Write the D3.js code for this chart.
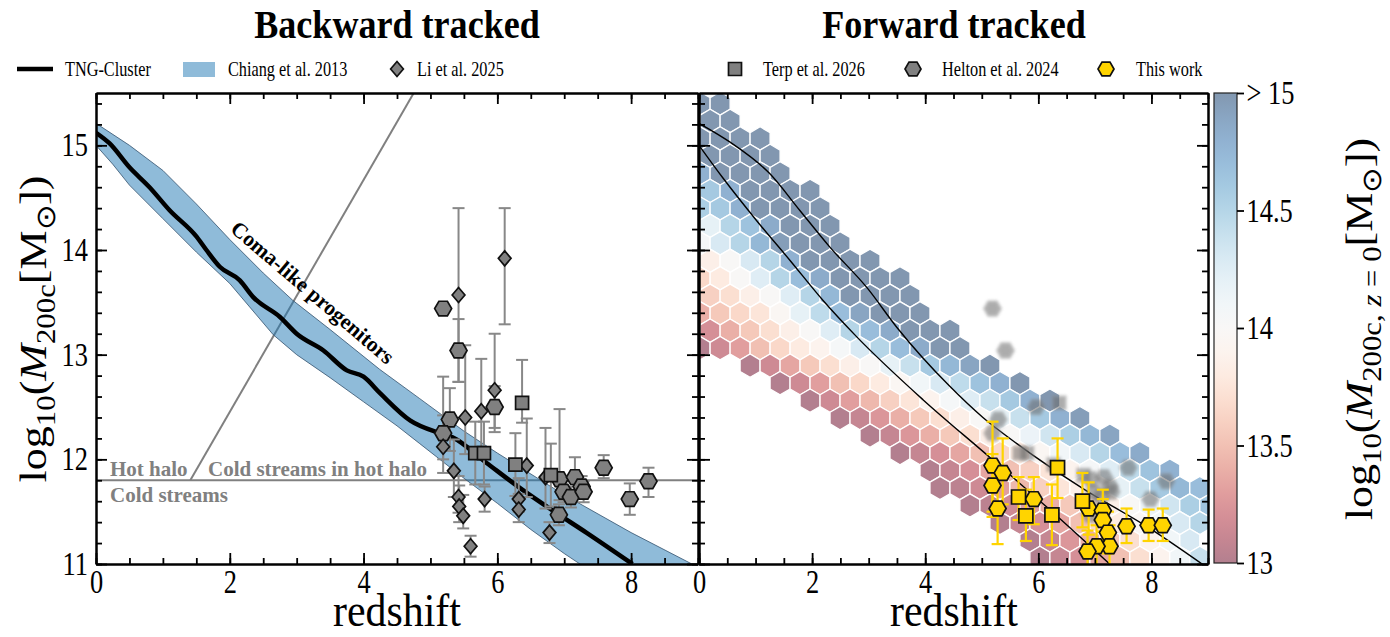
<!DOCTYPE html>
<html>
<head>
<meta charset="utf-8">
<script src="https://cdn.jsdelivr.net/npm/d3@7/dist/d3.min.js"></script>
<style>
  body { margin: 0; background: #fff; }
  svg text { font-family: "Liberation Serif", "Times New Roman", serif; }
</style>
</head>
<body>
<div id="wrapper"></div>
<script>
// ---------------- data ----------------
const xTicksMajor = [0, 2, 4, 6, 8]
const yTicksMajor = [11, 12, 13, 14, 15]
const cbTicks = [13, 13.5, 14, 14.5, 15]
const cbTickLabels = ['13', '13.5', '14', '14.5', '> 15']

// TNG-Cluster median track
const tngZ = [0, 0.2, 0.5, 0.8, 1.1, 1.5, 1.65, 1.85, 2.15, 2.35, 2.75, 3.0, 3.4, 3.75, 4.0, 4.25, 4.7, 5.14, 5.33, 5.83, 6.33, 6.83, 7.33, 8.02]
const tngM = [15.12, 15.02, 14.79, 14.6, 14.38, 14.13, 14.0, 13.84, 13.71, 13.55, 13.36, 13.2, 13.04, 12.85, 12.79, 12.63, 12.37, 12.25, 12.21, 11.97, 11.73, 11.51, 11.3, 11.0]

// Chiang et al. 2013 band
const chiangUpZ = [0, 0.5, 1.0, 1.5, 2.0, 2.5, 2.94, 3.5, 4.24, 4.84, 5.5, 6.0, 7.0, 8.0, 9.0]
const chiangUpM = [15.21, 15.0, 14.76, 14.44, 14.1, 13.78, 13.52, 13.24, 12.86, 12.58, 12.27, 12.06, 11.66, 11.3, 10.97]
const chiangLoZ = [0, 0.25, 0.5, 1.0, 1.5, 2.0, 2.65, 3.0, 3.5, 4.0, 4.5, 4.84, 5.5, 6.0, 6.5, 7.0, 7.4]
const chiangLoM = [15.0, 14.82, 14.62, 14.3, 13.98, 13.68, 13.19, 13.0, 12.78, 12.55, 12.32, 12.15, 11.82, 11.58, 11.33, 11.1, 10.93]

// hot halo / cold stream boundaries
const haloLineZ = [1.41, 4.75]
const haloLineM = [11.8, 15.5]
const streamLineZ = [0, 9]
const streamLineM = [11.8, 11.8]

// Li et al. 2025
const liZ = [5.42, 6.11, 5.96, 5.76, 5.52, 5.19, 6.44, 5.35, 6.72, 5.42, 5.43, 5.49, 5.81, 6.32, 6.32, 6.78, 5.6]
const liM = [13.57, 13.92, 12.66, 12.46, 12.4, 12.12, 11.94, 11.89, 11.83, 11.64, 11.55, 11.46, 11.62, 11.62, 11.52, 11.3, 11.17]
const liErrLo = [0.83, 0.63, 0.4, 0.35, 0.35, 0.25, 0.3, 0.25, 0.3, 0.15, 0.15, 0.12, 0.12, 0.12, 0.12, 0.1, 0.1]
const liErrHi = [0.83, 0.48, 0.54, 0.5, 0.69, 0.3, 0.45, 0.3, 0.47, 0.2, 0.2, 0.2, 0.12, 0.2, 0.15, 0.1, 0.1]

// Terp et al. 2026
const terpZ = [6.37, 5.67, 5.8, 6.27, 6.8]
const terpM = [12.54, 12.06, 12.06, 11.95, 11.85]
const terpErrLo = [0.19, 0.3, 0.3, 0.3, 0.3]
const terpErrHi = [0.41, 0.3, 0.3, 0.3, 0.3]

// Helton et al. 2024
const heltonZ = [5.19, 5.42, 5.96, 5.29, 5.19, 6.93, 7.16, 7.59, 8.26, 6.99, 7.1, 7.26, 7.29, 7.98, 6.92]
const heltonM = [13.44, 13.04, 12.5, 12.38, 12.25, 11.81, 11.83, 11.92, 11.79, 11.69, 11.64, 11.74, 11.69, 11.62, 11.47]
const heltonErrLo = [0, 0.3, 0.2, 0.3, 0.25, 0.2, 0.2, 0.1, 0.15, 0.1, 0.1, 0.1, 0.1, 0.15, 0.1]
const heltonErrHi = [0, 0.3, 0.2, 0.3, 0.54, 0.67, 0.19, 0.12, 0.13, 0.1, 0.1, 0.1, 0.1, 0.15, 0.1]

// This work (forward tracked)
const thisHexZ = [5.19, 5.37, 5.19, 5.28, 5.92, 6.89, 7.14, 7.14, 7.23, 7.26, 7.03, 6.87, 7.56, 7.95, 8.2]
const thisHexM = [11.94, 11.87, 11.75, 11.53, 11.62, 11.53, 11.51, 11.42, 11.3, 11.17, 11.17, 11.12, 11.36, 11.37, 11.37]
const thisHexErrLo = [0.44, 0.3, 0.3, 0.34, 0.24, 0.25, 0.2, 0.2, 0.2, 0.2, 0.2, 0.2, 0.16, 0.15, 0.15]
const thisHexErrHi = [0.42, 0.33, 0.3, 0.3, 0.21, 0.25, 0.2, 0.2, 0.2, 0.2, 0.2, 0.2, 0.17, 0.15, 0.16]
const thisSqZ = [6.34, 5.65, 5.78, 6.24, 6.78]
const thisSqM = [11.92, 11.64, 11.46, 11.47, 11.6]
const thisSqErrLo = [0.29, 0.22, 0.24, 0.29, 0.25]
const thisSqErrHi = [0.28, 0.19, 0.25, 0.29, 0.27]

// forward-tracked envelope curves
const fwdUpZ = [0, 0.55, 1.25, 1.78, 2.31, 2.97, 3.5, 4.43, 5.02, 5.62, 6.79, 7.97, 9.0]
const fwdUpM = [15.21, 15.03, 14.73, 14.38, 14.03, 13.64, 13.26, 12.7, 12.4, 12.15, 11.72, 11.34, 10.96]
const fwdLoZ = [0, 0.42, 1.02, 1.61, 2.19, 2.79, 3.96, 5.14, 6.2, 7.26]
const fwdLoM = [15.0, 14.69, 14.28, 13.9, 13.52, 13.17, 12.57, 12.02, 11.52, 11.0]

// hexbin grid: bin size and first row, then per row the first column and the z=0 mass of each cell
const hexDz = 0.3534
const hexDM = 0.167
const hexZ0 = 0.02
const hexM0 = 15.4
const hexStartCol = [0, 0, 0, 0, 0, 0, 0, 0, 0, 0, 0, 0, 0, 0, 0, 2, 4, 5, 7, 8, 10, 11, 12, 13, 15, 16, 17]
const hexValues = [
  [15, 15],
  [15, 15],
  [15, 15, 15, 15],
  [15, 15, 15, 15],
  [14.8, 15, 15, 15, 15],
  [14.6, 14.8, 15, 15, 15, 15],
  [14.55, 14.6, 14.8, 15, 15, 15, 15],
  [14.2, 14.5, 14.65, 14.85, 15, 15, 15],
  [14.05, 14.3, 14.5, 14.75, 14.95, 15, 15, 15],
  [13.85, 14.0, 14.3, 14.5, 14.8, 15, 15, 15, 15],
  [13.65, 13.8, 14.0, 14.25, 14.5, 14.7, 14.85, 15, 15, 15, 15],
  [13.6, 13.7, 13.85, 14.0, 14.25, 14.5, 14.75, 15, 15, 15, 15],
  [13.4, 13.55, 13.65, 13.75, 13.95, 14.2, 14.45, 14.7, 14.9, 15, 15, 15],
  [13.2, 13.4, 13.55, 13.7, 13.85, 14.0, 14.25, 14.5, 14.7, 14.85, 15, 15, 15],
  [13.0, 13.15, 13.3, 13.5, 13.65, 13.8, 13.9, 14.05, 14.3, 14.5, 14.7, 14.85, 15, 15],
  [13.0, 13.15, 13.35, 13.55, 13.7, 13.85, 14.0, 14.2, 14.4, 14.6, 14.75, 14.9, 15],
  [13.0, 13.15, 13.3, 13.5, 13.65, 13.8, 13.95, 14.1, 14.3, 14.45, 14.65, 14.8, 15],
  [13.0, 13.15, 13.3, 13.45, 13.6, 13.75, 13.9, 14.05, 14.25, 14.4, 14.6, 14.8, 15],
  [13.0, 13.1, 13.25, 13.4, 13.55, 13.7, 13.85, 14.0, 14.2, 14.4, 14.6, 14.8, 14.95],
  [13.0, 13.1, 13.25, 13.4, 13.55, 13.7, 13.85, 14.0, 14.15, 14.35, 14.55, 14.75, 14.9],
  [13.0, 13.1, 13.2, 13.35, 13.5, 13.65, 13.8, 13.95, 14.1, 14.3, 14.5, 14.7, 14.85],
  [13.0, 13.1, 13.2, 13.35, 13.5, 13.6, 13.75, 13.9, 14.05, 14.25, 14.45, 14.65, 14.8],
  [13.0, 13.05, 13.15, 13.3, 13.45, 13.6, 13.75, 13.85, 14.0, 14.2, 14.4, 14.6, 14.75, 14.7],
  [13.0, 13.05, 13.15, 13.3, 13.4, 13.55, 13.7, 13.85, 14.0, 14.15, 14.35, 14.55, 14.65],
  [13.0, 13.1, 13.2, 13.35, 13.5, 13.65, 13.8, 13.95, 14.1, 14.3, 14.5],
  [13.0, 13.1, 13.25, 13.4, 13.55, 13.7, 13.9, 14.1, 14.3],
  [13.0, 13.1, 13.2, 13.35, 13.5, 13.7, 13.9, 14.1, 14.4]
]

// ---------------- layout ----------------
const width = 1390, height = 637
const panelTop = 93, panelBottom = 564
const leftRange = [96, 698], rightRange = [699, 1208]
const tickFont = 33, tickSq = 0.8   // glyphs in the figure are narrow and tall
const grayMarker = '#808080'
const gold = '#ffd400'

const svg = d3.select('#wrapper').append('svg')
  .attr('width', width)
  .attr('height', height)
const defs = svg.append('defs')

const xLeft = d3.scaleLinear().domain([0, 9]).range(leftRange)
const xRight = d3.scaleLinear().domain([0, 9]).range(rightRange)
const yScale = d3.scaleLinear().domain([11, 15.5]).range([panelBottom, panelTop])
const colorScale = d3.scaleSequential(d3.interpolateRdBu).domain([13, 15]).clamp(true)

function addClip(id, range) {
  defs.append('clipPath').attr('id', id).append('rect')
    .attr('x', range[0]).attr('y', panelTop)
    .attr('width', range[1] - range[0]).attr('height', panelBottom - panelTop)
}
addClip('clipL', leftRange)
addClip('clipR', rightRange)

defs.append('filter').attr('id', 'soft')
  .attr('x', '-50%').attr('y', '-50%').attr('width', '200%').attr('height', '200%')
  .append('feGaussianBlur').attr('stdDeviation', 1.6)

// marker shapes
const hexMarker = r => 'M' + d3.range(6).map(i => [r * Math.cos(Math.PI / 3 * i), r * Math.sin(Math.PI / 3 * i)]).join('L') + 'Z'
const diamondMarker = r => `M0,${-r}L${r * 0.85},0L0,${r}L${-r * 0.85},0Z`
const squareMarker = r => `M${-r},${-r}H${r}V${r}H${-r}Z`

function addText(parent, x, y, str, size, opt = {}) {
  const sq = opt.sq || 1
  const g = parent.append('g')
    .attr('transform', `translate(${x},${y}) scale(${sq},1) rotate(${opt.rotate || 0})`)
  return g.append('text')
    .attr('font-size', size)
    .attr('font-weight', opt.bold ? 'bold' : 'normal')
    .attr('fill', opt.color || '#000')
    .attr('text-anchor', opt.anchor || 'start')
    .text(str)
}

function drawErrors(g, xs, zs, ms, lo, hi, color, cap, widthPx) {
  zs.forEach((z, i) => {
    if (!lo[i] && !hi[i]) return
    const x = xs(z), y0 = yScale(ms[i] - lo[i]), y1 = yScale(ms[i] + hi[i])
    g.append('line').attr('x1', x).attr('x2', x).attr('y1', y0).attr('y2', y1)
      .attr('stroke', color).attr('stroke-width', widthPx)
    ;[y0, y1].forEach(yy => g.append('line')
      .attr('x1', x - cap).attr('x2', x + cap).attr('y1', yy).attr('y2', yy)
      .attr('stroke', color).attr('stroke-width', widthPx))
  })
}

function drawMarkers(g, xs, zs, ms, path, fill, opt = {}) {
  g.selectAll(null).data(zs).enter().append('path')
    .attr('d', path)
    .attr('transform', (z, i) => `translate(${xs(z)},${yScale(ms[i])})`)
    .attr('fill', fill)
    .attr('stroke', opt.stroke || '#111')
    .attr('stroke-width', opt.strokeWidth || 1.7)
    .attr('opacity', opt.opacity || 1)
    .attr('filter', opt.filter || null)
}

function drawFrame(xs, range, showYLabels) {
  const g = svg.append('g')
  const styleAxis = sel => {
    sel.attr('font-family', '"Liberation Serif", serif').attr('font-size', tickFont)
    sel.selectAll('.domain').attr('stroke', '#000').attr('stroke-width', 2)
    sel.selectAll('.tick line').attr('stroke', '#000').attr('stroke-width', 1.8)
    sel.selectAll('.tick text').attr('fill', '#000')
  }
  const minorX = d3.range(0, 9.01, 0.5)
  const minorY = d3.range(11, 15.5, 0.2)
  // bottom
  g.append('g').attr('transform', `translate(0,${panelBottom})`)
    .call(d3.axisBottom(xs).tickValues(xTicksMajor).tickSize(-11).tickPadding(6).tickSizeOuter(0))
    .call(styleAxis)
    .selectAll('.tick text').attr('transform', `scale(${tickSq},1)`)
  g.append('g').attr('transform', `translate(0,${panelBottom})`)
    .call(d3.axisBottom(xs).tickValues(minorX).tickSize(-6).tickFormat('').tickSizeOuter(0))
    .call(styleAxis)
  // top
  g.append('g').attr('transform', `translate(0,${panelTop})`)
    .call(d3.axisTop(xs).tickValues(xTicksMajor).tickSize(-11).tickFormat('').tickSizeOuter(0))
    .call(styleAxis)
  g.append('g').attr('transform', `translate(0,${panelTop})`)
    .call(d3.axisTop(xs).tickValues(minorX).tickSize(-6).tickFormat('').tickSizeOuter(0))
    .call(styleAxis)
  // left
  const left = g.append('g').attr('transform', `translate(${range[0]},0)`)
    .call(d3.axisLeft(yScale).tickValues(yTicksMajor).tickSize(-11).tickPadding(10).tickSizeOuter(0)
      .tickFormat(showYLabels ? d3.format('d') : ''))
    .call(styleAxis)
  left.selectAll('.tick text').attr('transform', `scale(${tickSq},1)`)
  g.append('g').attr('transform', `translate(${range[0]},0)`)
    .call(d3.axisLeft(yScale).tickValues(minorY).tickSize(-6).tickFormat('').tickSizeOuter(0))
    .call(styleAxis)
  // right
  g.append('g').attr('transform', `translate(${range[1]},0)`)
    .call(d3.axisRight(yScale).tickValues(yTicksMajor).tickSize(-11).tickFormat('').tickSizeOuter(0))
    .call(styleAxis)
  g.append('g').attr('transform', `translate(${range[1]},0)`)
    .call(d3.axisRight(yScale).tickValues(minorY).tickSize(-6).tickFormat('').tickSizeOuter(0))
    .call(styleAxis)
}

// ---------------- left panel: backward tracked ----------------
const left = svg.append('g').attr('clip-path', 'url(#clipL)')

const lineL = d3.line().x(d => xLeft(d[0])).y(d => yScale(d[1]))
left.append('path').attr('d', lineL(d3.zip(haloLineZ, haloLineM)))
  .attr('fill', 'none').attr('stroke', '#808080').attr('stroke-width', 2)
left.append('path').attr('d', lineL(d3.zip(streamLineZ, streamLineM)))
  .attr('fill', 'none').attr('stroke', '#808080').attr('stroke-width', 2)

const bandPts = d3.zip(chiangUpZ, chiangUpM).concat(d3.zip(chiangLoZ, chiangLoM).reverse())
left.append('path')
  .attr('d', lineL(bandPts) + 'Z')
  .attr('fill', '#1f77b4').attr('fill-opacity', 0.5)
  .attr('stroke', '#34536e').attr('stroke-width', 1).attr('stroke-opacity', 0.8)

left.append('path').attr('d', d3.line().curve(d3.curveMonotoneX).x(d => xLeft(d[0])).y(d => yScale(d[1]))(d3.zip(tngZ, tngM)))
  .attr('fill', 'none').attr('stroke', '#000').attr('stroke-width', 4.5).attr('stroke-linejoin', 'round')

addText(left, 110, 476, 'Hot halo', 21, { bold: true, color: '#808080' })
addText(left, 208, 476, 'Cold streams in hot halo', 21, { bold: true, color: '#808080' })
addText(left, 110, 502, 'Cold streams', 21, { bold: true, color: '#808080' })
addText(left, 308, 298, 'Coma-like progenitors', 21.5, { bold: true, rotate: 40.5, anchor: 'middle' })

const errL = svg.append('g').attr('clip-path', 'url(#clipL)')
drawErrors(errL, xLeft, liZ, liM, liErrLo, liErrHi, '#888', 6, 2)
drawErrors(errL, xLeft, terpZ, terpM, terpErrLo, terpErrHi, '#888', 6, 2)
drawErrors(errL, xLeft, heltonZ, heltonM, heltonErrLo, heltonErrHi, '#888', 6, 2)
drawMarkers(errL, xLeft, heltonZ, heltonM, hexMarker(8.5), grayMarker)
drawMarkers(errL, xLeft, liZ, liM, diamondMarker(7.5), grayMarker)
drawMarkers(errL, xLeft, terpZ, terpM, squareMarker(6.5), grayMarker)

drawFrame(xLeft, leftRange, true)

// ---------------- right panel: forward tracked ----------------
const right = svg.append('g').attr('clip-path', 'url(#clipR)')
const hexHalfW = (xRight(hexDz) - xRight(0)) / 2
const hexRad = (yScale(15) - yScale(15 + hexDM)) / 1.5
const cellPath = `M0,${-hexRad}L${hexHalfW},${-hexRad / 2}L${hexHalfW},${hexRad / 2}L0,${hexRad}L${-hexHalfW},${hexRad / 2}L${-hexHalfW},${-hexRad / 2}Z`

const cells = []
hexValues.forEach((row, i) => row.forEach((v, j) => {
  const col = hexStartCol[i] + j
  cells.push({ z: hexZ0 + (col + (i % 2) * 0.5) * hexDz, m: hexM0 - i * hexDM, v })
}))
right.selectAll('path.cell').data(cells).enter().append('path')
  .attr('class', 'cell')
  .attr('d', cellPath)
  .attr('transform', d => `translate(${xRight(d.z)},${yScale(d.m)})`)
  .attr('fill', d => colorScale(d.v))
  .attr('fill-opacity', 0.5)
  .attr('stroke', '#fff').attr('stroke-width', 1.3)

const lineR = d3.line().curve(d3.curveMonotoneX).x(d => xRight(d[0])).y(d => yScale(d[1]))
right.append('path').attr('d', lineR(d3.zip(fwdUpZ, fwdUpM)))
  .attr('fill', 'none').attr('stroke', '#000').attr('stroke-width', 1.4)
right.append('path').attr('d', lineR(d3.zip(fwdLoZ, fwdLoM)))
  .attr('fill', 'none').attr('stroke', '#000').attr('stroke-width', 1.4)

drawMarkers(right, xRight, heltonZ, heltonM, hexMarker(8.5), '#6a6a6a', { stroke: '#888', opacity: 0.55, filter: 'url(#soft)' })
drawMarkers(right, xRight, terpZ, terpM, squareMarker(6.5), '#6a6a6a', { stroke: '#888', opacity: 0.55, filter: 'url(#soft)' })

drawErrors(right, xRight, thisHexZ, thisHexM, thisHexErrLo, thisHexErrHi, gold, 6, 2.2)
drawErrors(right, xRight, thisSqZ, thisSqM, thisSqErrLo, thisSqErrHi, gold, 6, 2.2)
drawMarkers(right, xRight, thisHexZ, thisHexM, hexMarker(8.5), gold)
drawMarkers(right, xRight, thisSqZ, thisSqM, squareMarker(7), gold)

drawFrame(xRight, rightRange, false)

// ---------------- colorbar ----------------
const cbX = 1214, cbW = 23
const cbScale = d3.scaleLinear().domain([13, 15]).range([563, 93])
const grad = defs.append('linearGradient').attr('id', 'cbGrad')
  .attr('x1', 0).attr('y1', 1).attr('x2', 0).attr('y2', 0)
grad.selectAll('stop').data(d3.range(0, 1.001, 0.05)).enter().append('stop')
  .attr('offset', t => t)
  .attr('stop-color', t => colorScale(13 + 2 * t))
  .attr('stop-opacity', 0.5)
svg.append('rect').attr('x', cbX).attr('y', cbScale(15)).attr('width', cbW).attr('height', cbScale(13) - cbScale(15))
  .attr('fill', 'url(#cbGrad)').attr('stroke', '#222').attr('stroke-width', 1.2)
const cbAxis = svg.append('g').attr('transform', `translate(${cbX + cbW},0)`)
  .call(d3.axisRight(cbScale).tickValues(cbTicks).tickSize(7).tickPadding(5).tickFormat((d, i) => cbTickLabels[i]))
cbAxis.attr('font-family', '"Liberation Serif", serif').attr('font-size', tickFont)
cbAxis.select('.domain').remove()
cbAxis.selectAll('.tick line').attr('stroke', '#000').attr('stroke-width', 1.8)
cbAxis.selectAll('.tick text').attr('fill', '#000').attr('transform', `scale(${tickSq},1)`)

// ---------------- labels ----------------
function massLabel(parent, x, y, size, sub) {
  const g = parent.append('g').attr('transform', `translate(${x},${y}) scale(0.88,1) rotate(-90)`)
  const t = g.append('text').attr('font-size', size).attr('text-anchor', 'middle').attr('fill', '#000')
  const s = size * 0.7, d = size * 0.22
  t.append('tspan').text('log')
  t.append('tspan').attr('font-size', s).attr('dy', d).text('10')
  t.append('tspan').attr('dy', -d).text('(')
  t.append('tspan').attr('font-style', 'italic').text('M')
  const st = t.append('tspan').attr('font-size', s).attr('dy', d)
  sub.forEach(p => st.append('tspan').attr('font-style', p.italic ? 'italic' : 'normal').text(p.t))
  t.append('tspan').attr('dy', -d).text('[M')
  t.append('tspan').attr('font-size', s).attr('dy', d).text('⊙')
  t.append('tspan').attr('dy', -d).text('])')
}
massLabel(svg, 46, 329, 44, [{ t: '200c' }])
massLabel(svg, 1372, 329, 44, [{ t: '200c, ' }, { t: 'z', italic: true }, { t: ' = 0' }])

addText(svg, 397, 626, 'redshift', 46, { anchor: 'middle', sq: 0.91 })
addText(svg, 954, 626, 'redshift', 46, { anchor: 'middle', sq: 0.91 })
addText(svg, 397, 38, 'Backward tracked', 41, { anchor: 'middle', bold: true, sq: 0.88 })
addText(svg, 954, 38, 'Forward tracked', 41, { anchor: 'middle', bold: true, sq: 0.88 })

// ---------------- legend ----------------
const legY = 69, legFont = 22, legSq = 0.74
const legend = svg.append('g')
legend.append('line').attr('x1', 17).attr('x2', 53).attr('y1', legY).attr('y2', legY)
  .attr('stroke', '#000').attr('stroke-width', 4.5)
addText(legend, 65, legY + 7, 'TNG-Cluster', legFont, { sq: legSq })
legend.append('rect').attr('x', 183).attr('y', legY - 7).attr('width', 32).attr('height', 15)
  .attr('fill', '#1f77b4').attr('fill-opacity', 0.5)
addText(legend, 228, legY + 7, 'Chiang et al. 2013', legFont, { sq: legSq })
legend.append('path').attr('d', diamondMarker(7.5)).attr('transform', `translate(397,${legY})`)
  .attr('fill', grayMarker).attr('stroke', '#111').attr('stroke-width', 1.7)
addText(legend, 417, legY + 7, 'Li et al. 2025', legFont, { sq: legSq })
legend.append('path').attr('d', squareMarker(6.5)).attr('transform', `translate(735,${legY})`)
  .attr('fill', grayMarker).attr('stroke', '#111').attr('stroke-width', 1.7)
addText(legend, 763, legY + 7, 'Terp et al. 2026', legFont, { sq: legSq })
legend.append('path').attr('d', hexMarker(8)).attr('transform', `translate(913,${legY})`)
  .attr('fill', grayMarker).attr('stroke', '#111').attr('stroke-width', 1.7)
addText(legend, 942, legY + 7, 'Helton et al. 2024', legFont, { sq: legSq })
legend.append('path').attr('d', hexMarker(8)).attr('transform', `translate(1106,${legY})`)
  .attr('fill', gold).attr('stroke', '#111').attr('stroke-width', 1.7)
addText(legend, 1136, legY + 7, 'This work', legFont, { sq: legSq })
</script>
</body>
</html>
